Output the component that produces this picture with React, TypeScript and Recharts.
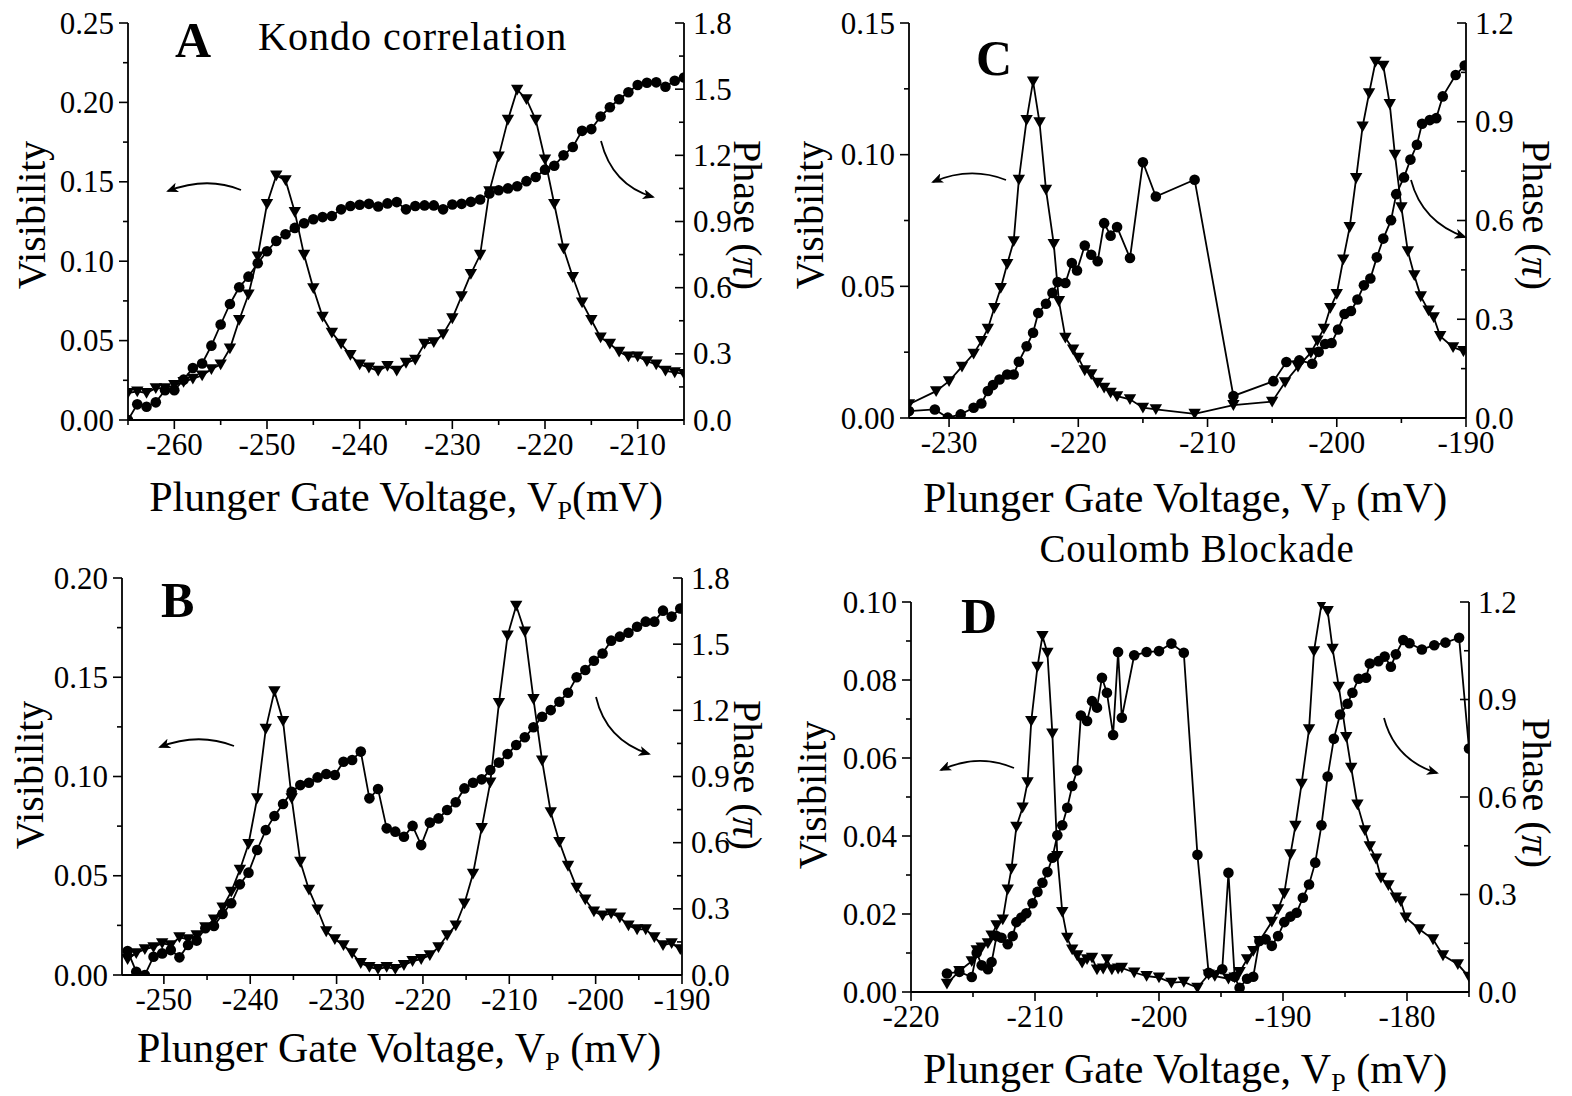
import React from "react";
import { ComposedChart, Line, XAxis, YAxis } from "recharts";

const FONT = '"Liberation Serif", "Times New Roman", Times, serif';

// ---------- Panel A: Kondo correlation ----------
const aVoltage = [
  -265, -264, -263, -262, -261, -260, -259, -258, -257, -256, -255, -254, -253, -252, -251,
  -250, -249, -248, -247, -246, -245, -244, -243, -242, -241, -240, -239, -238, -237, -236,
  -235, -234, -233, -232, -231, -230, -229, -228, -227, -226, -225, -224, -223, -222, -221,
  -220, -219, -218, -217, -216, -215, -214, -213, -212, -211, -210, -209, -208, -207, -206, -205,
];
const aVisibility = [
  0.017, 0.018, 0.017, 0.020, 0.020, 0.022, 0.024, 0.026, 0.028, 0.032,
  0.035, 0.045, 0.063, 0.079, 0.103, 0.136, 0.154, 0.151, 0.131, 0.104,
  0.083, 0.065, 0.055, 0.048, 0.041, 0.035, 0.033, 0.031, 0.034, 0.031,
  0.036, 0.038, 0.048, 0.049, 0.054, 0.064, 0.078, 0.092, 0.104, 0.144,
  0.166, 0.189, 0.208, 0.202, 0.189, 0.164, 0.136, 0.108, 0.090, 0.074,
  0.063, 0.052, 0.048, 0.043, 0.040, 0.040, 0.037, 0.035, 0.031, 0.030, 0.029,
];
const aPhase = [
  0.000, 0.071, 0.060, 0.080, 0.135, 0.135, 0.183, 0.236, 0.256, 0.337,
  0.433, 0.526, 0.602, 0.650, 0.711, 0.765, 0.812, 0.842, 0.871, 0.892,
  0.910, 0.920, 0.925, 0.955, 0.970, 0.976, 0.980, 0.968, 0.982, 0.988,
  0.955, 0.970, 0.973, 0.973, 0.955, 0.977, 0.980, 0.989, 1.000, 1.027,
  1.042, 1.050, 1.060, 1.083, 1.102, 1.135, 1.153, 1.200, 1.238, 1.311,
  1.319, 1.376, 1.418, 1.454, 1.486, 1.519, 1.529, 1.531, 1.511, 1.538, 1.553,
];

// ---------- Panel B ----------
const bVoltage = [
  -254.2, -253.2, -252.2, -251.2, -250.2, -249.2, -248.2, -247.2, -246.2, -245.2,
  -244.2, -243.2, -242.2, -241.2, -240.2, -239.2, -238.2, -237.2, -236.2, -235.2,
  -234.2, -233.2, -232.2, -231.2, -230.2, -229.2, -228.2, -227.2, -226.2, -225.2,
  -224.2, -223.2, -222.2, -221.2, -220.2, -219.2, -218.2, -217.2, -216.2, -215.2,
  -214.2, -213.2, -212.2, -211.2, -210.2, -209.2, -208.2, -207.2, -206.2, -205.2,
  -204.2, -203.2, -202.2, -201.2, -200.2, -199.2, -198.2, -197.2, -196.2, -195.2,
  -194.2, -193.2, -192.2, -191.2, -190.2,
];
const bVisibility = [
  0.008, 0.011, 0.013, 0.014, 0.016, 0.015, 0.019, 0.018, 0.020, 0.024,
  0.028, 0.034, 0.042, 0.053, 0.066, 0.089, 0.124, 0.143, 0.128, 0.089,
  0.057, 0.043, 0.033, 0.022, 0.018, 0.015, 0.011, 0.006, 0.004, 0.003,
  0.004, 0.003, 0.005, 0.007, 0.008, 0.010, 0.014, 0.020, 0.025, 0.036,
  0.051, 0.074, 0.097, 0.137, 0.171, 0.186, 0.173, 0.139, 0.108, 0.082,
  0.067, 0.055, 0.044, 0.038, 0.032, 0.030, 0.031, 0.029, 0.025, 0.023,
  0.023, 0.019, 0.015, 0.016, 0.013,
];
const bPhase = [
  0.109, 0.015, 0.000, 0.083, 0.098, 0.113, 0.080, 0.136, 0.156, 0.212,
  0.222, 0.277, 0.325, 0.411, 0.464, 0.567, 0.657, 0.721, 0.775, 0.831,
  0.861, 0.872, 0.896, 0.911, 0.907, 0.967, 0.975, 1.013, 0.801, 0.843,
  0.665, 0.650, 0.627, 0.676, 0.589, 0.691, 0.710, 0.748, 0.783, 0.846,
  0.872, 0.887, 0.929, 0.963, 1.002, 1.043, 1.078, 1.123, 1.171, 1.201,
  1.239, 1.280, 1.350, 1.383, 1.425, 1.458, 1.516, 1.534, 1.552, 1.579,
  1.602, 1.602, 1.652, 1.625, 1.662,
];

// ---------- Panel C ----------
const cVisVoltage = [
  -233.1, -231.0, -230.0, -229.0, -228.1, -227.5, -227.0, -226.5, -226.0, -225.5,
  -225.0, -224.6, -224.0, -223.5, -223.0, -222.5, -221.9, -221.5, -221.0, -220.4,
  -220.0, -219.5, -219.0, -218.5, -218.0, -217.5, -217.0, -216.0, -215.0, -214.0,
  -211.0, -208.0, -205.0, -204.0, -203.0, -202.0, -201.5, -201.0, -200.5, -200.0,
  -199.5, -199.0, -198.5, -198.0, -197.5, -197.0, -196.4, -195.9, -195.5, -195.0,
  -194.5, -194.0, -193.5, -192.9, -192.5, -192.0, -191.0, -190.2,
];
const cVisibility = [
  0.0052, 0.0102, 0.0140, 0.0195, 0.0244, 0.0292, 0.0339, 0.0418, 0.0494, 0.0585,
  0.0671, 0.0905, 0.1132, 0.1278, 0.1123, 0.0867, 0.0661, 0.0444, 0.0305, 0.0260,
  0.0229, 0.0181, 0.0166, 0.0134, 0.0115, 0.0096, 0.0083, 0.0071, 0.0039, 0.0033,
  0.0016, 0.0049, 0.0062, 0.0136, 0.0195, 0.0248, 0.0294, 0.0339, 0.0418, 0.0471,
  0.0602, 0.0725, 0.0911, 0.1107, 0.1233, 0.1353, 0.1338, 0.1192, 0.1000, 0.0800,
  0.0633, 0.0542, 0.0462, 0.0408, 0.0383, 0.0311, 0.0269, 0.0254,
];
const cPhVoltage = [
  -233.1, -231.1, -230.1, -229.1, -228.1, -227.5, -227.0, -226.6, -226.1, -225.5,
  -225.0, -224.6, -224.0, -223.5, -223.1, -222.5, -222.0, -221.6, -221.0, -220.5,
  -220.1, -219.5, -219.0, -218.5, -218.0, -217.5, -217.0, -216.0, -215.0, -214.0,
  -211.0, -208.0, -204.9, -203.9, -202.9, -201.9, -201.4, -200.9, -200.4, -199.9,
  -199.4, -198.9, -198.4, -197.9, -197.4, -196.9, -196.4, -195.8, -195.4, -194.8,
  -194.3, -193.8, -193.4, -192.8, -192.3, -191.8, -190.8, -190.1,
];
const cPhase = [
  0.021, 0.026, 0.001, 0.011, 0.031, 0.044, 0.082, 0.100, 0.117, 0.132,
  0.132, 0.171, 0.218, 0.259, 0.319, 0.347, 0.380, 0.413, 0.410, 0.471,
  0.448, 0.524, 0.496, 0.476, 0.592, 0.554, 0.580, 0.486, 0.777, 0.673,
  0.724, 0.067, 0.112, 0.170, 0.175, 0.165, 0.201, 0.225, 0.228, 0.269,
  0.316, 0.325, 0.360, 0.403, 0.424, 0.488, 0.545, 0.601, 0.680, 0.731,
  0.785, 0.830, 0.894, 0.905, 0.911, 0.977, 1.042, 1.071,
];

// ---------- Panel D: Coulomb Blockade ----------
const dVisVoltage = [
  -217.1, -216.1, -215.1, -214.7, -214.3, -213.8, -213.5, -213.1, -212.6, -212.2,
  -211.9, -211.5, -211.0, -210.6, -210.3, -209.8, -209.4, -209.0, -208.6, -208.2,
  -207.8, -207.4, -207.0, -206.6, -206.2, -205.8, -205.4, -205.0, -204.5, -204.2,
  -203.8, -203.3, -203.0, -202.0, -201.0, -200.0, -199.0, -198.0, -196.9, -196.0,
  -195.5, -194.4, -193.9, -193.5, -192.9, -192.4, -191.9, -190.9, -190.4, -189.9,
  -189.4, -189.0, -188.5, -187.9, -187.5, -186.9, -186.4, -186.0, -185.5, -184.9,
  -184.5, -184.0, -183.4, -183.0, -182.5, -182.1, -181.5, -180.9, -180.5, -180.1,
  -179.0, -177.9, -177.1, -175.9, -175.0,
];
const dVisibility = [
  0.0021, 0.0054, 0.0079, 0.0107, 0.0114, 0.0125, 0.0145, 0.0171, 0.0186, 0.0263,
  0.0316, 0.0424, 0.0473, 0.0538, 0.0695, 0.0834, 0.0913, 0.0870, 0.0663, 0.0349,
  0.0205, 0.0139, 0.0109, 0.0094, 0.0075, 0.0084, 0.0088, 0.0058, 0.0060, 0.0084,
  0.0058, 0.0060, 0.0062, 0.0050, 0.0041, 0.0037, 0.0024, 0.0026, 0.0011, 0.0045,
  0.0041, 0.0034, 0.0037, 0.0051, 0.0084, 0.0105, 0.0131, 0.0180, 0.0212, 0.0253,
  0.0353, 0.0426, 0.0534, 0.0674, 0.0874, 0.0994, 0.0977, 0.0880, 0.0783, 0.0654,
  0.0575, 0.0481, 0.0415, 0.0374, 0.0342, 0.0293, 0.0274, 0.0242, 0.0233, 0.0191,
  0.0161, 0.0135, 0.0094, 0.0071, 0.0039,
];
const dPhVoltage = [
  -217.1, -216.1, -215.1, -214.7, -214.3, -213.8, -213.5, -213.1, -212.7, -212.2,
  -211.8, -211.5, -211.1, -210.7, -210.2, -209.8, -209.4, -209.0, -208.6, -208.2,
  -207.8, -207.4, -207.0, -206.6, -206.3, -205.8, -205.4, -205.0, -204.6, -204.2,
  -203.7, -203.3, -203.0, -202.0, -201.0, -200.0, -199.0, -198.0, -196.9, -196.0,
  -194.9, -194.4, -193.9, -193.5, -192.9, -192.4, -191.9, -191.4, -190.9, -190.4,
  -189.9, -189.4, -188.9, -188.4, -187.9, -187.4, -186.9, -186.4, -185.9, -185.4,
  -184.8, -184.4, -183.9, -183.3, -183.0, -182.3, -181.8, -181.3, -180.9, -180.3,
  -179.8, -178.8, -177.8, -176.9, -175.8, -175.0,
];
const dPhase = [
  0.057, 0.062, 0.046, 0.121, 0.082, 0.070, 0.092, 0.172, 0.167, 0.147,
  0.172, 0.215, 0.229, 0.242, 0.273, 0.308, 0.336, 0.369, 0.413, 0.482,
  0.513, 0.567, 0.634, 0.682, 0.851, 0.834, 0.895, 0.875, 0.967, 0.921,
  0.791, 1.046, 0.844, 1.036, 1.046, 1.049, 1.072, 1.044, 0.422, 0.059,
  0.070, 0.367, 0.047, 0.013, 0.041, 0.047, 0.157, 0.162, 0.142, 0.172,
  0.215, 0.232, 0.244, 0.290, 0.331, 0.398, 0.513, 0.663, 0.779, 0.854,
  0.887, 0.921, 0.964, 0.967, 1.011, 1.018, 1.032, 1.001, 1.039, 1.083,
  1.073, 1.054, 1.067, 1.075, 1.090, 0.749,
];

type Pt = { x: number; y: number };
const pairs = (xs: number[], ys: number[]): Pt[] => xs.map((x, i) => ({ x, y: ys[i] }));

const ML = 112;
const MR = 100;
const MT = 30;
const MB = 100;

const isMajor = (majors: number[], v: number) => majors.some((m) => Math.abs(m - v) < 1e-6);

function makeTick(side: "left" | "right" | "bottom", majors: number[], fmt: (v: number) => string) {
  return (props: any) => {
    const { x, y, payload } = props;
    const v = payload.value as number;
    const major = isMajor(majors, v);
    const len = major ? 9 : 5;
    const textStyle = { fontFamily: FONT, fontSize: 31, fill: "#000" };
    if (side === "left") {
      return (
        <g>
          <line x1={x} y1={y} x2={x - len} y2={y} stroke="#000" strokeWidth={1.6} />
          {major && (
            <text x={x - 14} y={y} textAnchor="end" dominantBaseline="central" style={textStyle}>
              {fmt(v)}
            </text>
          )}
        </g>
      );
    }
    if (side === "right") {
      return (
        <g>
          <line x1={x} y1={y} x2={x - len} y2={y} stroke="#000" strokeWidth={1.6} />
          {major && (
            <text x={x + 9} y={y} textAnchor="start" dominantBaseline="central" style={textStyle}>
              {fmt(v)}
            </text>
          )}
        </g>
      );
    }
    return (
      <g>
        <line x1={x} y1={y} x2={x} y2={y + len} stroke="#000" strokeWidth={1.6} />
        {major && (
          <text x={x} y={y + 35} textAnchor="middle" style={textStyle}>
            {fmt(v)}
          </text>
        )}
      </g>
    );
  };
}

const circleDot = (p: any) => <circle key={`c${p.index}`} cx={p.cx} cy={p.cy} r={5.3} fill="#000" />;
const triangleDot = (p: any) => (
  <path
    key={`t${p.index}`}
    d={`M${p.cx - 6.2},${p.cy - 5}L${p.cx + 6.2},${p.cy - 5}L${p.cx},${p.cy + 5.8}Z`}
    fill="#000"
  />
);

interface PanelProps {
  left: number;
  top: number;
  w: number;
  h: number;
  xDomain: [number, number];
  xMajor: number[];
  xMinor: number[];
  vMax: number;
  vMajor: number[];
  vMinor: number[];
  pMax: number;
  pMajor: number[];
  pMinor: number[];
  vis: Pt[];
  phase: Pt[];
}

function Panel(p: PanelProps) {
  const width = ML + p.w + MR;
  const height = MT + p.h + MB;
  const axisLine = { stroke: "#000", strokeWidth: 1.8 };
  return (
    <div style={{ position: "absolute", left: p.left - ML, top: p.top - MT, width, height }}>
      <ComposedChart width={width} height={height} margin={{ top: MT, right: 0, bottom: 0, left: 0 }}>
        <XAxis
          type="number"
          dataKey="x"
          domain={p.xDomain}
          allowDataOverflow
          ticks={[...p.xMajor, ...p.xMinor].sort((a, b) => a - b)}
          interval={0}
          height={MB}
          tickSize={0}
          tickMargin={0}
          tickLine={false}
          axisLine={axisLine}
          tick={makeTick("bottom", p.xMajor, (v) => String(v))}
        />
        <YAxis
          yAxisId="v"
          orientation="left"
          type="number"
          domain={[0, p.vMax]}
          allowDataOverflow
          ticks={[...p.vMajor, ...p.vMinor].sort((a, b) => a - b)}
          interval={0}
          width={ML}
          tickSize={0}
          tickMargin={0}
          tickLine={false}
          axisLine={axisLine}
          tick={makeTick("left", p.vMajor, (v) => v.toFixed(2))}
        />
        <YAxis
          yAxisId="p"
          orientation="right"
          type="number"
          domain={[0, p.pMax]}
          allowDataOverflow
          ticks={[...p.pMajor, ...p.pMinor].sort((a, b) => a - b)}
          interval={0}
          width={MR}
          tickSize={0}
          tickMargin={0}
          tickLine={false}
          axisLine={axisLine}
          tick={makeTick("right", p.pMajor, (v) => v.toFixed(1))}
        />
        <Line
          yAxisId="v"
          data={p.vis}
          dataKey="y"
          type="linear"
          stroke="#000"
          strokeWidth={1.8}
          dot={triangleDot}
          activeDot={false}
          isAnimationActive={false}
        />
        <Line
          yAxisId="p"
          data={p.phase}
          dataKey="y"
          type="linear"
          stroke="#000"
          strokeWidth={1.8}
          dot={circleDot}
          activeDot={false}
          isAnimationActive={false}
        />
      </ComposedChart>
    </div>
  );
}

// annotation arrows (page coordinates)
const arrowPaths = [
  "M241,190 Q207,176 168,191",
  "M601,141 Q612,185 653,197",
  "M234,746 Q198,732 160,747",
  "M596,697 Q606,740 649,754",
  "M1006,180 Q970,166 933,182",
  "M1411,180 Q1422,222 1465,237",
  "M1014,768 Q978,753 941,770",
  "M1384,718 Q1395,760 1437,773",
];

const phaseLabel = (cx: number, cy: number) => (
  <text transform={`translate(${cx},${cy}) rotate(90)`} textAnchor="middle" dominantBaseline="central" fontSize={40}>
    Phase (<tspan fontStyle="italic">π</tspan>)
  </text>
);
const visLabel = (cx: number, cy: number) => (
  <text transform={`translate(${cx},${cy}) rotate(-90)`} textAnchor="middle" dominantBaseline="central" fontSize={40}>
    Visibility
  </text>
);
const xTitle = (cx: number, by: number, gap: boolean) => (
  <text x={cx} y={by} textAnchor="middle" fontSize={42}>
    Plunger Gate Voltage, V<tspan fontSize={26} dy={8}>P</tspan>
    <tspan dy={-8}>{gap ? " (mV)" : "(mV)"}</tspan>
  </text>
);

export default function App() {
  const phase18Major = [0, 0.3, 0.6, 0.9, 1.2, 1.5, 1.8];
  const phase18Minor = [0.15, 0.45, 0.75, 1.05, 1.35, 1.65];
  const phase12Major = [0, 0.3, 0.6, 0.9, 1.2];
  const phase12Minor = [0.15, 0.45, 0.75, 1.05];
  return (
    <div style={{ position: "absolute", left: 0, top: 0, width: 1572, height: 1096, background: "#fff", fontFamily: FONT, overflow: "hidden" }}>
      <Panel
        left={128} top={23} w={556} h={397}
        xDomain={[-265, -205]}
        xMajor={[-260, -250, -240, -230, -220, -210]}
        xMinor={[-265, -255, -245, -235, -225, -215, -205]}
        vMax={0.25} vMajor={[0, 0.05, 0.1, 0.15, 0.2, 0.25]} vMinor={[0.025, 0.075, 0.125, 0.175, 0.225]}
        pMax={1.8} pMajor={phase18Major} pMinor={phase18Minor}
        vis={pairs(aVoltage, aVisibility)} phase={pairs(aVoltage, aPhase)}
      />
      <Panel
        left={121.5} top={578} w={560} h={397}
        xDomain={[-254.85, -190]}
        xMajor={[-250, -240, -230, -220, -210, -200, -190]}
        xMinor={[-245, -235, -225, -215, -205, -195]}
        vMax={0.2} vMajor={[0, 0.05, 0.1, 0.15, 0.2]} vMinor={[0.025, 0.075, 0.125, 0.175]}
        pMax={1.8} pMajor={phase18Major} pMinor={phase18Minor}
        vis={pairs(bVoltage, bVisibility)} phase={pairs(bVoltage, bPhase)}
      />
      <Panel
        left={909} top={23} w={557} h={395}
        xDomain={[-233.1, -190]}
        xMajor={[-230, -220, -210, -200, -190]}
        xMinor={[-225, -215, -205, -195]}
        vMax={0.15} vMajor={[0, 0.05, 0.1, 0.15]} vMinor={[0.025, 0.075, 0.125]}
        pMax={1.2} pMajor={phase12Major} pMinor={phase12Minor}
        vis={pairs(cVisVoltage, cVisibility)} phase={pairs(cPhVoltage, cPhase)}
      />
      <Panel
        left={911} top={602} w={558} h={390}
        xDomain={[-220, -175]}
        xMajor={[-220, -210, -200, -190, -180]}
        xMinor={[-215, -205, -195, -185, -175]}
        vMax={0.1} vMajor={[0, 0.02, 0.04, 0.06, 0.08, 0.1]} vMinor={[0.01, 0.03, 0.05, 0.07, 0.09]}
        pMax={1.2} pMajor={phase12Major} pMinor={phase12Minor}
        vis={pairs(dVisVoltage, dVisibility)} phase={pairs(dPhVoltage, dPhase)}
      />
      <svg
        width={1572}
        height={1096}
        style={{ position: "absolute", left: 0, top: 0, pointerEvents: "none", fontFamily: FONT }}
      >
        <defs>
          <marker id="head" markerWidth="12" markerHeight="10" refX="10" refY="5" orient="auto" markerUnits="userSpaceOnUse">
            <path d="M0,0 L12,5 L0,10 L3,5 Z" fill="#000" />
          </marker>
        </defs>
        {arrowPaths.map((d, i) => (
          <path key={i} d={d} fill="none" stroke="#000" strokeWidth={1.8} markerEnd="url(#head)" />
        ))}
        <text x={175} y={57} fontSize={50} fontWeight="bold">A</text>
        <text x={161} y={617} fontSize={50} fontWeight="bold">B</text>
        <text x={976} y={75} fontSize={50} fontWeight="bold">C</text>
        <text x={961} y={633} fontSize={50} fontWeight="bold">D</text>
        <text x={258} y={50} fontSize={40} letterSpacing={1}>Kondo correlation</text>
        <text x={1197} y={562} fontSize={39} textAnchor="middle" letterSpacing={0.8}>Coulomb Blockade</text>
        {visLabel(31, 215)}
        {visLabel(29, 775)}
        {visLabel(809, 215)}
        {visLabel(812, 795)}
        {phaseLabel(747, 215)}
        {phaseLabel(747, 775)}
        {phaseLabel(1536, 215)}
        {phaseLabel(1536, 793)}
        {xTitle(406, 511, false)}
        {xTitle(399, 1062, true)}
        {xTitle(1185, 512, true)}
        {xTitle(1185, 1083, true)}
      </svg>
    </div>
  );
}
